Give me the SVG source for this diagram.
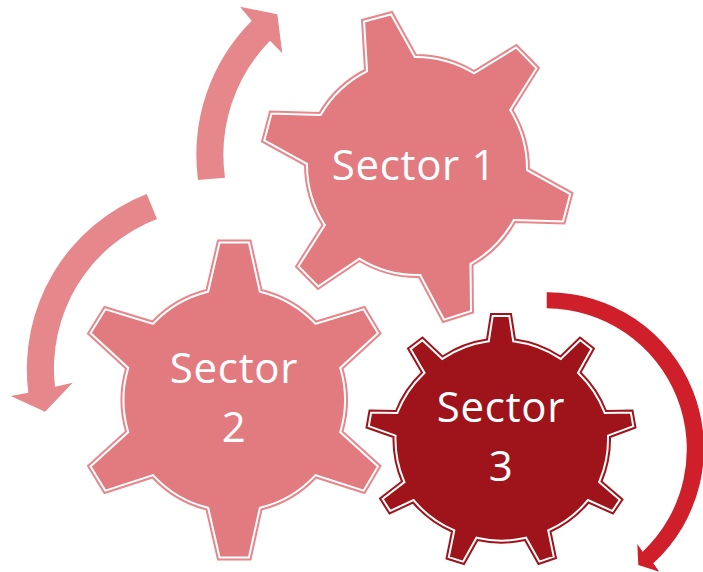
<svg xmlns="http://www.w3.org/2000/svg" width="703" height="572" viewBox="0 0 703 572">
<style>
.lt{fill:#e27b7f}.dk{fill:#9f141a}
.wh{fill:none;stroke:#fff;stroke-width:6;stroke-miterlimit:10}
.el{fill:none;stroke:#e6878b;stroke-width:2;stroke-miterlimit:10}
.ed{fill:none;stroke:#9f141a;stroke-width:2;stroke-miterlimit:10}
.t{font-family:"Open Sans","Noto Sans",sans-serif;font-size:42px;letter-spacing:.7px;fill:#fff;text-anchor:middle}
</style>
<defs>
<path id="p1" d="M362 20L392 12L416 55A113 113 0 0 1 474 71L516.500 45L539 68L512.500 110A113 113 0 0 1 529 169L572.500 193L564.500 223.500L515 222A113 113 0 0 1 472.500 265L473 312.500L443 322L419 277A113 113 0 0 1 359.500 261L318 289L296 266.500L322.500 225A113 113 0 0 1 305 165L262 141.500L270 111.500L319.500 113A113 113 0 0 1 365 70Z"/>
<path id="p2" d="M218 240.500H250.500L261.500 290A113 113 0 0 1 316 321.500L364.500 307L380.500 333.500L342.500 368.500A113 113 0 0 1 342.500 431.500L380.500 466L364.500 493L316 477.500A113 113 0 0 1 261.500 509.500L250.500 559.500H218L206.500 509.500A113 113 0 0 1 152.500 477.500L104.500 493L88 466L126 431.500A113 113 0 0 1 126 368.500L88 333.500L104.500 307L152.500 321.500A113 113 0 0 1 206.500 290Z"/>
<path id="p3" d="M491 314H511L515 339.500A108 108 0 0 1 560.500 356.500L580 337.500L594 348.500L580.500 372.500A108 108 0 0 1 606 411L632.500 410.500L635.500 427.500L610 437A108 108 0 0 1 601.500 481.500L622.500 499.500L613 513.500L588.500 502.500A108 108 0 0 1 550.500 531.500L556 558L538.500 564L525 540A108 108 0 0 1 477.500 540L464 564L446.500 558.500L452 531.500A108 108 0 0 1 413 502.500L389.500 513.500L380 498.500L402 481.500A108 108 0 0 1 393.500 437L366.500 427.500L369.500 410.500L396 411A108 108 0 0 1 422 372.500L408 348.500L422.500 337.500L442.500 356.500A108 108 0 0 1 487 339.500Z"/>
<clipPath id="c1"><use href="#p1"/></clipPath>
<clipPath id="c2"><use href="#p2"/></clipPath>
<clipPath id="c3"><use href="#p3"/></clipPath>
</defs>
<g id="connectors">
<path id="arrow-1" fill="#e6878b" d="M198 180A190 190 0 0 1 251.700 20.700L240 6.700L277.300 14.300L282.300 53.300L270 40.700A163 163 0 0 0 225 177.700Z"/>
<path id="arrow-2" fill="#e6878b" d="M146.700 194L157 219A160 160 0 0 0 55 386.700L72.700 382.700L45 411.700L10.700 396L28.300 392.700A188 188 0 0 1 146.700 194Z"/>
<path id="arrow-3" fill="#ce1f2a" d="M546.700 292.300A156 156 0 0 1 653.300 563.300L659.300 571.700L638.300 565L637.300 544L642.700 551.700A141 141 0 0 0 546.700 308.300Z"/>
</g>
<g id="sector-1"><use href="#p1" class="lt"/><use href="#p1" class="wh" clip-path="url(#c1)"/><use href="#p1" class="el"/><text class="t" x="414" y="180">Sector 1</text></g>
<g id="sector-2"><use href="#p2" class="lt"/><use href="#p2" class="wh" clip-path="url(#c2)"/><use href="#p2" class="el"/><text class="t" x="234" y="383">Sector</text><text class="t" x="234" y="442">2</text></g>
<g id="sector-3"><use href="#p3" class="dk"/><use href="#p3" class="wh" clip-path="url(#c3)"/><use href="#p3" class="ed"/><text class="t" x="501" y="422">Sector</text><text class="t" x="501" y="481">3</text></g>
</svg>
